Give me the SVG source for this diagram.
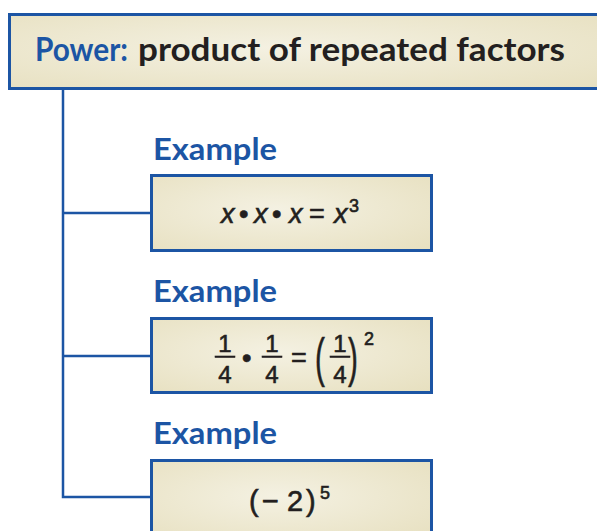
<svg xmlns="http://www.w3.org/2000/svg" width="597" height="531" viewBox="0 0 597 531">
<defs>
<radialGradient id="bg" cx="0.45" cy="0.45" r="0.75">
<stop offset="0" stop-color="#f4f1e2"/>
<stop offset="1" stop-color="#e7e0c0"/>
</radialGradient>
<style>
.box{fill:url(#bg);stroke:#1c55a4;stroke-width:3}
.conn{stroke:#1c55a4;stroke-width:2.5;fill:none}
.hand{font-family:Lato,"Noto Sans",sans-serif;font-weight:bold}
.ex{fill:#1c55a4;font-size:31px}
.m{font-family:"Liberation Sans",Arial,sans-serif;fill:#231f20;stroke:#231f20;stroke-width:0.6;font-size:27px}
.i{font-style:italic}
.sup{font-size:18px}
.fr{font-size:24px;text-anchor:middle}
</style>
</defs>
<g id="connectors">
<path class="conn" d="M63 89 V497 H151 M63 213 H151 M63 356 H151"/>
</g>
<g id="title">
<rect class="box" x="9.5" y="14.5" width="600" height="74"/>
<text class="hand" x="35" y="61" font-size="32" fill="#1c55a4" font-weight="normal" textLength="93" lengthAdjust="spacingAndGlyphs">Power:</text>
<text class="hand" x="138" y="61" font-size="32" fill="#231f20" textLength="427" lengthAdjust="spacingAndGlyphs">product of repeated factors</text>
</g>
<g id="example1">
<text class="hand ex" x="153" y="160" textLength="124" lengthAdjust="spacingAndGlyphs">Example</text>
<rect class="box" x="151.5" y="175.5" width="280" height="75"/>
<g class="m">
<text class="i" x="221" y="223">x</text>
<text x="239" y="223">•</text>
<text class="i" x="254" y="223">x</text>
<text x="272" y="223">•</text>
<text class="i" x="289" y="223">x</text>
<text x="309" y="223">=</text>
<text class="i" x="334" y="223">x</text>
<text class="sup" x="349" y="212">3</text>
</g>
</g>
<g id="example2">
<text class="hand ex" x="153" y="302" textLength="124" lengthAdjust="spacingAndGlyphs">Example</text>
<rect class="box" x="151.5" y="318.5" width="280" height="74"/>
<g class="m">
<text class="fr" x="225" y="352">1</text>
<rect x="215" y="356" width="20" height="1.5"/>
<text class="fr" x="225" y="383">4</text>
<text x="242" y="367">•</text>
<text class="fr" x="272" y="352">1</text>
<rect x="262" y="356" width="20" height="1.5"/>
<text class="fr" x="272" y="383">4</text>
<text x="291" y="367">=</text>
<text font-size="54" transform="translate(315 376) scale(0.55 1)">(</text>
<text class="fr" x="340" y="352">1</text>
<rect x="330" y="356" width="20" height="1.5"/>
<text class="fr" x="340" y="383">4</text>
<text font-size="54" transform="translate(348 376) scale(0.55 1)">)</text>
<text class="sup" x="364" y="345">2</text>
</g>
</g>
<g id="example3">
<text class="hand ex" x="153" y="444" textLength="124" lengthAdjust="spacingAndGlyphs">Example</text>
<rect class="box" x="151.5" y="460.5" width="280" height="80"/>
<g class="m">
<text x="249" y="511" font-size="29">(</text>
<text x="262" y="511" font-size="29">−</text>
<text x="287" y="511" font-size="29">2</text>
<text x="306" y="511" font-size="29">)</text>
<text class="sup" x="320" y="499">5</text>
</g>
</g>
</svg>
